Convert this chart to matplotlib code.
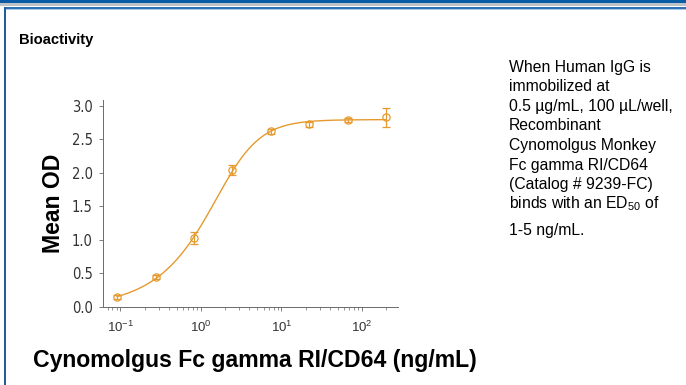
import numpy as np
import matplotlib
matplotlib.use("Agg")
import matplotlib.pyplot as plt
from matplotlib.patches import Rectangle
from matplotlib.ticker import LogLocator, NullFormatter, LogFormatterMathtext

# ---------------- data ----------------
conc = [0.0914, 0.274, 0.823, 2.47, 7.41, 22.2, 66.7, 200.0]      # ng/mL
mean_od = [0.144, 0.446, 1.026, 2.04, 2.62, 2.72, 2.79, 2.83]
err_od = [0.03, 0.03, 0.085, 0.075, 0.037, 0.035, 0.027, 0.14]
y_ticks = [0.0, 0.5, 1.0, 1.5, 2.0, 2.5, 3.0]
x_ticks = [0.1, 1, 10, 100]
title_text = "Bioactivity"
x_label = "Cynomolgus Fc gamma RI/CD64 (ng/mL)"
y_label = "Mean OD"
note_lines = ["When Human IgG is", "immobilized at",
              "0.5 \u00b5g/mL, 100 \u00b5L/well,", "Recombinant",
              "Cynomolgus Monkey", "Fc gamma RI/CD64",
              "(Catalog # 9239-FC)", r"binds with an ED$_{50}$ of",
              "1-5 ng/mL."]

# ---------------- fonts ----------------
SANS = "Liberation Sans"
plt.rcParams["font.family"] = [SANS, "DejaVu Sans"]
plt.rcParams["mathtext.fontset"] = "custom"
plt.rcParams["mathtext.rm"] = SANS
plt.rcParams["mathtext.it"] = SANS
plt.rcParams["mathtext.bf"] = SANS

ORANGE = "#E59A2F"

# ---------------- 5PL fit (Nelder-Mead, numpy only) ----------------
xd = np.array(conc); yd = np.array(mean_od)

def model(p, x):
    b, t, lc, h, ls = p
    return b + (t - b) / (1.0 + (np.exp(lc) / x) ** h) ** np.exp(ls)

def cost(p):
    if p[3] <= 0.05:
        return 1e9
    r = model(p, xd) - yd
    return float(np.sum(r * r))

def nelder_mead(f, x0, step, iters=4000):
    n = len(x0)
    pts = [np.array(x0, float)]
    for i in range(n):
        v = np.array(x0, float); v[i] += step[i]; pts.append(v)
    vals = [f(p) for p in pts]
    for _ in range(iters):
        order = np.argsort(vals)
        pts = [pts[i] for i in order]; vals = [vals[i] for i in order]
        cen = np.mean(pts[:-1], axis=0)
        xr = cen + (cen - pts[-1]); fr = f(xr)
        if fr < vals[0]:
            xe = cen + 2 * (cen - pts[-1]); fe = f(xe)
            if fe < fr:
                pts[-1], vals[-1] = xe, fe
            else:
                pts[-1], vals[-1] = xr, fr
        elif fr < vals[-2]:
            pts[-1], vals[-1] = xr, fr
        else:
            xc = cen + 0.5 * (pts[-1] - cen); fc = f(xc)
            if fc < vals[-1]:
                pts[-1], vals[-1] = xc, fc
            else:
                for i in range(1, n + 1):
                    pts[i] = pts[0] + 0.5 * (pts[i] - pts[0])
                    vals[i] = f(pts[i])
    return pts[int(np.argmin(vals))]

p_fit = nelder_mead(cost, [0.05, 2.8, np.log(1.3), 1.4, 0.0],
                    [0.05, 0.1, 0.3, 0.3, 0.3])
xf = np.logspace(np.log10(conc[0]), np.log10(conc[-1]), 300)
yf = model(p_fit, xf)

# ---------------- figure ----------------
W, H = 686, 385
fig = plt.figure(figsize=(W / 100, H / 100), dpi=100)
fig.patch.set_facecolor("white")

def frect(x0, y0, w, h, color):
    fig.patches.append(Rectangle((x0 / W, 1 - (y0 + h) / H), w / W, h / H,
                                 transform=fig.transFigure, color=color,
                                 lw=0, zorder=0))

frect(0, 0, W, 3.3, "#0B5CA6")
frect(0, 3.3, W, 2.4, "#BFC3C8")
frect(4, 6.7, W - 4, 2.3, "#2F73B5")
frect(4, 9.0, W - 4, 1.0, "#A9C8E6")
frect(4, 6.7, 2.3, H - 6.7, "#1E5F9E")

ax = fig.add_axes([103 / W, 1 - 307 / H, (398 - 103) / W, (307 - 100) / H])
ax.errorbar(conc, mean_od, yerr=err_od, fmt="o", mfc="none", mec=ORANGE,
            ms=5.2, mew=0.9, ecolor=ORANGE, elinewidth=0.9, capsize=3,
            capthick=0.9, zorder=3)
ax.plot(xf, yf, color=ORANGE, lw=1.0, zorder=2)

ax.set_xscale("log")
ax.set_xlim(0.061, 280)
ax.set_ylim(0, 3.085)
ax.set_yticks(y_ticks)
ax.set_yticklabels([f"{v:.1f}" for v in y_ticks])
ax.xaxis.set_major_locator(LogLocator(base=10))
ax.xaxis.set_minor_locator(LogLocator(base=10, subs=np.arange(2, 10)))
ax.xaxis.set_minor_formatter(NullFormatter())
ax.set_xticks(x_ticks)
ax.xaxis.set_major_formatter(LogFormatterMathtext())

for s in ("top", "right"):
    ax.spines[s].set_visible(False)
for s in ("left", "bottom"):
    ax.spines[s].set_color("#6B6B6B")
    ax.spines[s].set_linewidth(0.7)
ax.tick_params(axis="y", direction="out", length=3, width=0.6,
               color="#6B6B6B", pad=4.5, labelsize=10.5, labelcolor="#333333")
ax.tick_params(axis="x", which="major", direction="out", length=3.2,
               width=0.6, color="#6B6B6B", pad=6, labelsize=9.5,
               labelcolor="#333333")
ax.tick_params(axis="x", which="minor", direction="out", length=2,
               width=0.5, color="#6B6B6B")
for lab in ax.get_yticklabels():
    lab.set_fontfamily(["DejaVu Sans"])
    lab.set_fontstretch("condensed")

bold = ["Liberation Sans", "DejaVu Sans"]
fig.text(54 / W, 1 - 203 / H, y_label, rotation=90, ha="center",
         va="center", fontsize=16.6, fontweight="bold", family=bold,
         color="black")
fig.text(255 / W, 1 - 360 / H, x_label, ha="center", va="center",
         fontsize=16.6, fontweight="bold", family=bold, color="black")
fig.text(19 / W, 1 - 44 / H, title_text, ha="left", va="baseline",
         fontsize=10.6, fontweight="bold", family=bold, color="black")

baselines = [72, 91, 111, 130, 150, 170, 189, 208, 235]
for txt, yb in zip(note_lines, baselines):
    fig.text(509 / W, 1 - yb / H, txt, ha="left", va="baseline",
             fontsize=11.3, family=[SANS, "DejaVu Sans"], color="black")

fig.savefig("out.png", dpi=100, facecolor="white")
